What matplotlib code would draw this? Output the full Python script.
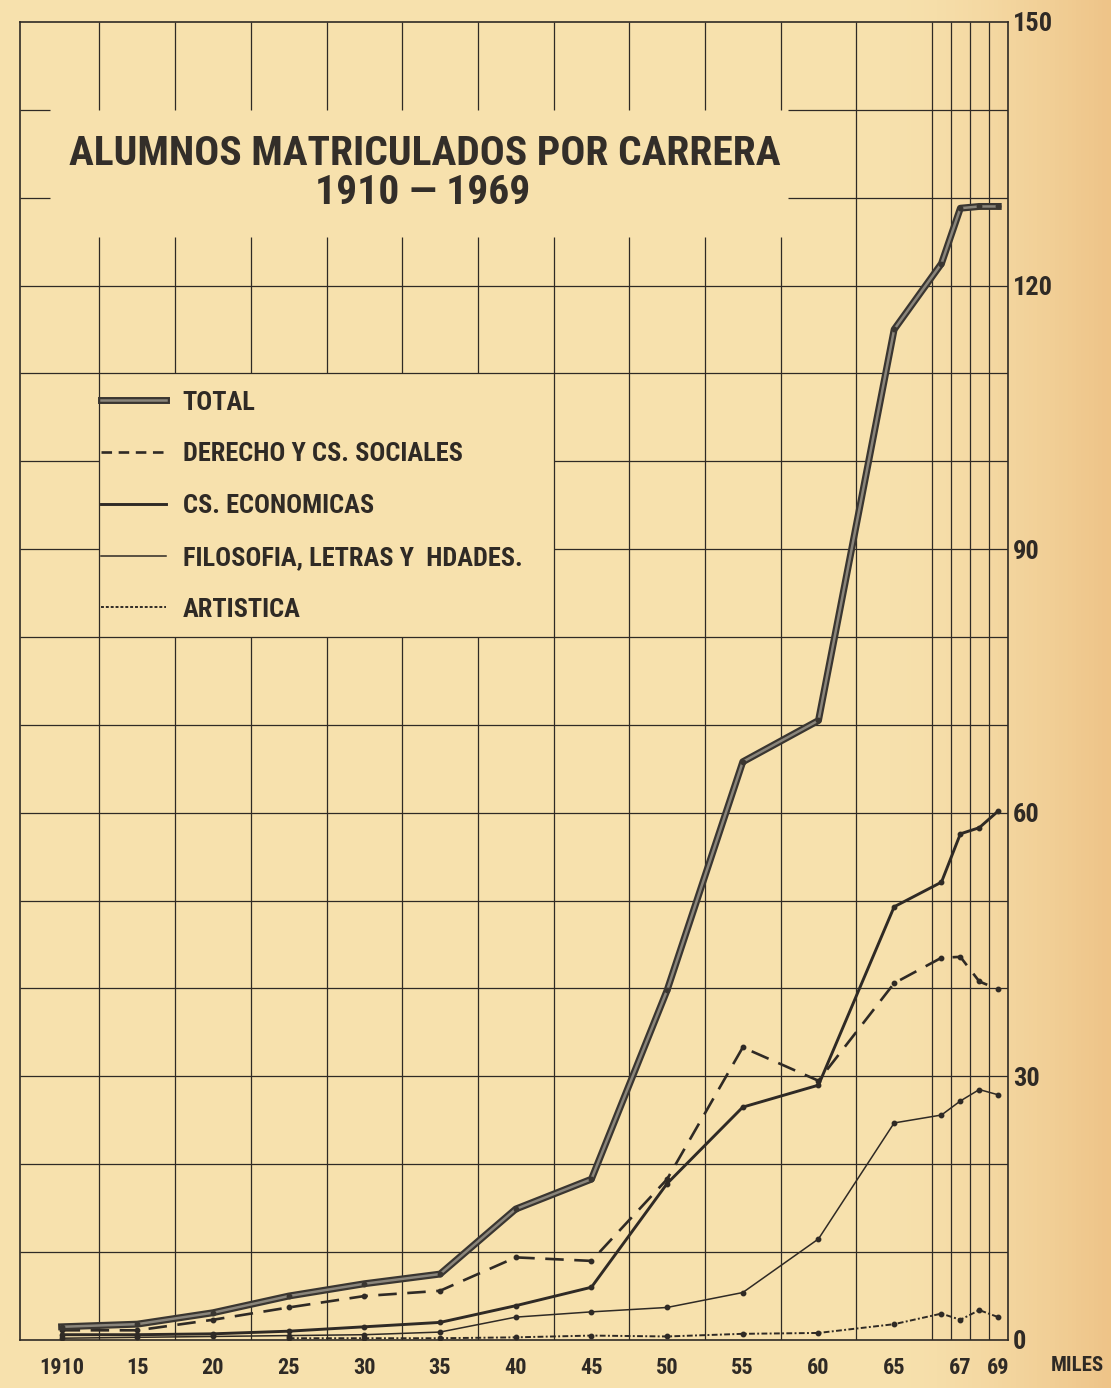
import numpy as np
import matplotlib
matplotlib.use('Agg')
import matplotlib.pyplot as plt
import matplotlib.patheffects as pe
from matplotlib.lines import Line2D

# matriculados por carrera, miles
YEARS = [1910, 1915, 1920, 1925, 1930, 1935, 1940, 1945, 1950, 1955, 1960,
         1965, 1966, 1967, 1968, 1969]
TOTAL = [1.5, 1.8, 3.1, 5.0, 6.4, 7.5, 14.9, 18.3, 39.8, 65.8, 70.5,
         115.0, 122.5, 128.8, 129.0, 129.0]
DERECHO = [1.1, 1.1, 2.3, 3.7, 5.0, 5.6, 9.4, 9.0, 18.3, 33.3, 29.5,
           40.6, 43.5, 43.6, 40.8, 39.9]
ECONOMICAS = [0.6, 0.6, 0.7, 1.0, 1.5, 2.0, 3.9, 6.0, 17.8, 26.5, 29.0,
              49.3, 52.1, 57.6, 58.3, 60.2]
FILOSOFIA = [0.2, 0.3, 0.4, 0.5, 0.6, 0.9, 2.6, 3.2, 3.7, 5.4, 11.5,
             24.7, 25.6, 27.2, 28.5, 27.9]
ARTISTICA = [np.nan, np.nan, np.nan, 0.2, 0.2, 0.2, 0.3, 0.5, 0.4, 0.7, 0.8,
             1.8, 3.0, 2.3, 3.4, 2.6]

X_TICKS = [1910, 1915, 1920, 1925, 1930, 1935, 1940, 1945, 1950, 1955, 1960,
           1965, 1967, 1969]
X_LABELS = ['1910', '15', '20', '25', '30', '35', '40', '45', '50', '55', '60',
            '65', '67', '69']
Y_TICKS = [0, 30, 60, 90, 120, 150]

LEGEND_LABELS = ['TOTAL', 'DERECHO Y CS. SOCIALES', 'CS. ECONOMICAS',
                 'FILOSOFIA, LETRAS Y  HDADES.', 'ARTISTICA']

PAPER = '#f6dfab'
INK = '#2f2a25'
FONT = ['Roboto Condensed', 'Liberation Sans Narrow', 'DejaVu Sans']

# the last 5-year cell of the sheet holds 1966-69 year by year
YEAR_KNOTS = [1900, 1965, 1966, 1975]
POS_KNOTS = [-2, 11, 11.625, 13.875]


def fwd(y):
    return np.interp(y, YEAR_KNOTS, POS_KNOTS)


def inv(p):
    return np.interp(p, POS_KNOTS, YEAR_KNOTS)


def fit_width(fig, txt, width_px):
    # shrink/grow a text until it spans the wanted width
    r = fig.canvas.get_renderer()
    w = txt.get_window_extent(renderer=r).width
    txt.set_fontsize(txt.get_fontsize() * width_px / w)


plt.rcParams['font.family'] = FONT

fig = plt.figure(figsize=(11.11, 13.88), dpi=100, facecolor=PAPER)

# paper tone, a little darker towards the right edge
bg = fig.add_axes([0, 0, 1, 1], zorder=-10)
grad = np.linspace(0, 1, 256)
tone = np.clip((grad - 0.8) / 0.2, 0, 1) ** 1.5
c0 = np.array([247, 225, 173]) / 255.
c1 = np.array([238, 196, 136]) / 255.
img = c0[None, :] * (1 - tone[:, None]) + c1[None, :] * tone[:, None]
bg.imshow(img[None, :, :], aspect='auto', extent=[0, 1, 0, 1])
bg.axis('off')

ax = fig.add_axes([0.018, 0.0346, 0.889, 0.9496])
ax.patch.set_alpha(0)
ax.set_xscale('function', functions=(fwd, inv))
x0, x1 = inv(-0.55), inv(12.5)
ax.set_xlim(x0, x1)
ax.set_ylim(0, 150)

# hand drawn grid with gaps for title and legend
grid_kw = dict(color=INK, lw=0.9, zorder=1)
v_years = [inv(p) for p in list(np.arange(0.5, 11, 1.0)) + [11.5, 11.75, 12.0, 12.25]]
for i, vx in enumerate(v_years):
    segs = [(0, 150)]
    if i <= 9:
        segs = [(0, 125.5), (140, 150)]
    if 1 <= i <= 5:
        segs = [(0, 80), (110, 125.5), (140, 150)]
    for a, b in segs:
        ax.vlines(vx, a, b, **grid_kw)

for gy in range(10, 150, 10):
    segs = [(x0, x1)]
    if gy in (90, 100):
        segs = [(x0, v_years[0]), (v_years[6], x1)]
    if gy in (130, 140):
        segs = [(x0, inv(-0.15)), (inv(9.6), x1)]
    for a, b in segs:
        ax.hlines(gy, a, b, **grid_kw)

for s in ax.spines.values():
    s.set_color(INK)
    s.set_linewidth(1.2)

# series
total_fx = [pe.Stroke(linewidth=5.0, foreground='#3a3631'), pe.Normal()]
ax.plot(YEARS, TOTAL, color='#8a857b', lw=1.8, path_effects=total_fx, zorder=5)
ax.plot(YEARS, TOTAL, ls='none', marker='o', ms=3.2, color='#3a3631', zorder=6)
ax.plot(YEARS, DERECHO, color=INK, lw=1.9, dashes=(7, 4), marker='o', ms=3.2,
        zorder=4)
ax.plot(YEARS, ECONOMICAS, color=INK, lw=2.1, marker='o', ms=3.2, zorder=4)
ax.plot(YEARS, FILOSOFIA, color=INK, lw=1.1, marker='o', ms=3.2, zorder=4)
ax.plot(YEARS, ARTISTICA, color=INK, lw=1.4, dashes=(3, 1.2, 1, 1.2),
        marker='o', ms=3.2, zorder=4)

# ticks
ax.set_xticks(X_TICKS)
ax.set_xticklabels(X_LABELS)
ax.xaxis.set_minor_locator(matplotlib.ticker.NullLocator())
ax.tick_params(axis='x', length=0, pad=12, labelsize=16, labelcolor=INK)
ax.yaxis.tick_right()
ax.set_yticks(Y_TICKS)
ax.tick_params(axis='y', length=0, pad=4, labelsize=19, labelcolor=INK)
for lab in ax.get_xticklabels() + ax.get_yticklabels():
    lab.set_fontweight('bold')
fig.text(0.970, 0.0165, 'MILES', ha='center', va='center', fontsize=15,
         color=INK, fontweight='bold')

# title
t1 = fig.text(0.3825, 0.889, 'ALUMNOS MATRICULADOS POR CARRERA', ha='center',
              va='center', fontsize=30, color='#332e29', fontweight='bold')
t2 = fig.text(0.38, 0.861, '1910 \u2014 1969', ha='center', va='center',
              fontsize=30, color='#332e29', fontweight='bold')
fit_width(fig, t1, 710)
t2.set_fontsize(t1.get_fontsize())

# legend
handles = [
    Line2D([], [], color='#8a857b', lw=1.8,
           path_effects=[pe.Stroke(linewidth=5.0, foreground='#3a3631'), pe.Normal()]),
    Line2D([], [], color=INK, lw=1.9, dashes=(4, 2.5)),
    Line2D([], [], color=INK, lw=2.1),
    Line2D([], [], color=INK, lw=1.1),
    Line2D([], [], color=INK, lw=1.4, dashes=(1.5, 1)),
]
leg = ax.legend(handles, LEGEND_LABELS, loc='upper left',
                bbox_to_anchor=(0.079, 0.728), bbox_transform=fig.transFigure,
                frameon=False, fontsize=19, handlelength=2.45,
                handletextpad=0.65, labelspacing=1.05, borderpad=0)
for t in leg.get_texts():
    t.set_color(INK)
    t.set_fontweight('bold')

fig.savefig('out.png', dpi=100, facecolor=PAPER)
